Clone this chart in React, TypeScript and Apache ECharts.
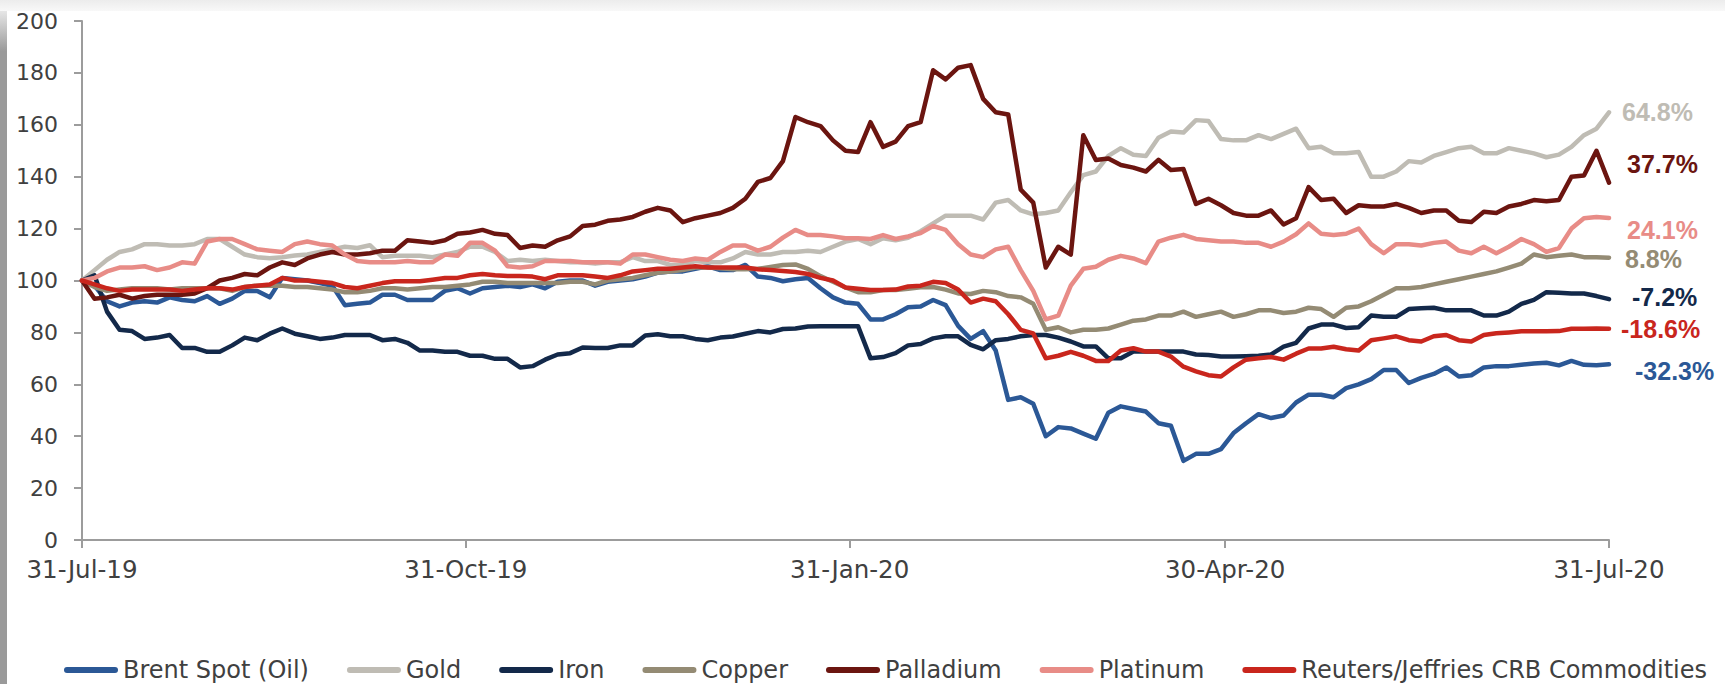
import React, { useEffect, useRef } from 'react';
import * as echarts from 'echarts';

// x positions: calendar days after 31-Jul-19, sampled every third day
const SAMPLE_DAYS: number[] = Array.from({ length: 123 }, (_, i) => i * 3);

const TICK_DAYS = [0, 92, 184, 274, 366];
const TICK_LABELS = ['31-Jul-19', '31-Oct-19', '31-Jan-20', '30-Apr-20', '31-Jul-20'];

const Y_TICKS = { min: 0, max: 200, step: 20 };

// Indexed prices, 31-Jul-19 = 100
const brent = [
  100, 98, 92, 90, 91.5, 92, 91.5, 93.5, 92.5, 92, 94, 91, 93, 96, 96, 93.5, 101, 100.5, 100, 99, 98, 90.5, 91, 91.5, 94.5,
  94.5, 92.5, 92.5, 92.5, 96, 97, 95, 97, 97.5, 98, 97.5, 98.5, 97, 99.5, 100, 100, 98, 99.5, 100, 100.5, 101.5, 103, 103.5, 103.5, 104.5,
  105.5, 104, 104, 106, 101.5, 101, 99.7, 100.5, 101, 97, 93.5, 91.5, 91, 85, 85, 87, 89.7, 90, 92.5, 90.5, 82.5, 77.5, 80.5, 73, 54,
  55, 52.5, 40, 43.5, 43, 41, 39, 49, 51.5, 50.5, 49.5, 45, 44, 30.5, 33.2, 33.2, 35, 41.2, 45, 48.5, 47, 48, 53, 56,
  56, 55, 58.5, 60, 62, 65.5, 65.5, 60.5, 62.5, 64, 66.5, 63, 63.5, 66.5, 67, 67, 67.5, 68, 68.3, 67.3, 69, 67.5, 67.3, 67.7,
];

const gold = [
  100, 104, 108, 111, 112, 114, 114, 113.5, 113.5, 114, 116, 116, 113, 110, 109, 108.6, 109, 109.6, 110, 111, 112, 113, 112.5, 113.6, 109,
  109.5, 109.5, 109.5, 109, 110, 111, 113, 113, 111, 107.5, 108, 107.5, 108, 107.5, 107, 107, 106.5, 107, 107, 109, 107.5, 107.5, 106, 106, 107.5,
  107, 107, 108.5, 111, 110, 110, 111, 111, 111.5, 111, 113, 115, 116, 114, 116.3, 115.5, 116.5, 119, 122, 125, 125, 125, 123.5, 130, 131,
  127, 125.5, 126, 127, 134, 140.6, 142, 148, 151, 148.5, 148, 155, 157.4, 157, 161.8, 161.5, 154.5, 154, 154, 156, 154.5, 156.5, 158.5, 151,
  151.5, 149, 149, 149.5, 140, 140, 142, 146, 145.5, 148, 149.5, 151, 151.5, 149, 149, 151, 150, 149, 147.5, 148.5, 151.5, 156, 158.5, 164.8,
];

const iron = [
  100, 102, 88, 81, 80.5, 77.5, 78, 79, 74, 74, 72.5, 72.5, 75, 78, 77, 79.5, 81.5, 79.5, 78.5, 77.5, 78, 79, 79, 79, 77,
  77.5, 76, 73, 73, 72.5, 72.5, 71, 71, 69.8, 69.8, 66.5, 67, 69.5, 71.5, 72, 74.2, 74, 74, 75, 75, 78.8, 79.3, 78.5, 78.5, 77.5,
  77, 78, 78.4, 79.5, 80.5, 80, 81.3, 81.5, 82.3, 82.4, 82.4, 82.4, 82.4, 70, 70.5, 72, 75, 75.5, 77.7, 78.5, 78.5, 75.2, 73.5, 77, 77.5,
  78.5, 79, 79, 78, 76.5, 74.6, 74.6, 70, 70, 72.6, 72.6, 72.6, 72.6, 72.6, 71.5, 71.3, 70.7, 70.7, 70.8, 71, 71.5, 74.5, 76, 81.5,
  83, 83, 81.7, 82, 86.5, 86, 86, 89, 89.3, 89.5, 88.5, 88.5, 88.5, 86.5, 86.5, 88, 91, 92.5, 95.5, 95.3, 95, 95, 94, 92.8,
];

const copper = [
  100, 97.5, 96, 96.5, 97, 97, 97, 96.5, 97, 97, 97, 97, 96, 97.5, 98, 98, 98, 97.5, 97.5, 97, 96.5, 95.5, 95.5, 96, 97,
  97, 96.5, 97, 97.5, 97.5, 98, 98.5, 99.5, 99.5, 99, 99, 99, 99, 99, 99.5, 99.5, 98.5, 100, 100.5, 101, 102, 103, 103.5, 104, 105,
  105, 104.7, 104.3, 104.3, 104.5, 105.2, 106, 106.2, 104.5, 101.7, 99.5, 97.3, 95.5, 95.5, 96.3, 96.3, 96.8, 97.4, 97.5, 96.5, 95, 94.8, 96, 95.5, 94,
  93.5, 91, 81, 82, 80, 81, 81, 81.5, 83, 84.5, 85, 86.5, 86.5, 88, 86, 87, 88, 86, 87, 88.5, 88.5, 87.5, 88, 89.5,
  89, 86, 89.5, 90, 92, 94.5, 97, 97, 97.5, 98.5, 99.5, 100.5, 101.5, 102.5, 103.5, 105, 106.5, 110, 109, 109.5, 110, 109, 109, 108.8,
];

const palladium = [
  100, 93, 93.5, 94.5, 93, 94, 94.5, 94.5, 94.5, 95, 97, 100, 101, 102.5, 102, 105, 107, 106, 108.5, 110, 111, 110, 110, 110.5, 111.5,
  111.5, 115.5, 115, 114.5, 115.5, 118, 118.5, 119.5, 118, 117.5, 112.5, 113.5, 113, 115.5, 117, 121, 121.5, 123, 123.5, 124.5, 126.5, 128, 127, 122.5, 124,
  125, 126, 128, 131.5, 138, 139.5, 146, 163, 161, 159.5, 154, 150, 149.5, 161, 151.5, 153.5, 159.5, 161, 181, 177.5, 182, 183, 170, 164.8, 164,
  135, 130, 105, 113, 110, 156, 146.4, 147, 144.5, 143.5, 142, 146.5, 142.6, 143, 129.5, 131.5, 129, 126, 125, 125, 127, 121.6, 124, 136,
  131, 131.5, 126, 129, 128.5, 128.5, 129.5, 128, 126, 127, 127, 123, 122.5, 126.5, 126, 128.5, 129.5, 131, 130.5, 131, 140, 140.5, 150, 137.7,
];

const platinum = [
  100, 101, 103.5, 105, 105, 105.5, 104, 105, 107, 106.5, 115, 116, 116, 114, 112, 111.5, 111, 114, 115, 114, 113.5, 110, 107.5, 107, 107,
  107, 107.5, 107, 107, 110, 109.5, 114.5, 114.5, 111.5, 105.5, 105, 105.5, 107.5, 107.5, 107.5, 107, 107, 107, 106.5, 110, 110, 109, 108, 107.5, 108.5,
  108, 111, 113.5, 113.5, 111.5, 113, 116.5, 119.5, 117.5, 117.5, 117, 116.3, 116.3, 116, 117.5, 116, 117, 118.3, 121, 119.5, 114, 110, 109, 112, 113,
  104, 96, 85, 86.5, 98, 104.5, 105.3, 108, 109.5, 108.5, 106.7, 115, 116.5, 117.6, 116, 115.5, 115, 115, 114.5, 114.5, 113, 115, 117.8, 122,
  118, 117.5, 118, 120, 114, 110.5, 114, 114, 113.5, 114.5, 115, 111.5, 110.5, 113, 110.5, 113, 116, 114, 111, 112.5, 120, 124, 124.5, 124.1,
];

const crb = [
  100, 98.5, 97, 96, 96.5, 96.5, 96.5, 96.5, 96, 96.5, 97, 97, 96.5, 97.5, 98, 98.5, 101, 100, 100, 99.5, 99, 97.5, 97, 98, 99,
  99.7, 99.7, 99.7, 100.3, 101, 101, 102, 102.5, 102, 101.7, 101.7, 101.5, 100.5, 102, 102, 102, 101.5, 101, 102, 103.5, 104, 104.5, 104.5, 105, 105.5,
  105, 105, 105, 105, 104.3, 104, 103.7, 103.3, 102.5, 101, 100, 97.3, 96.8, 96.3, 96.3, 96.5, 97.7, 98, 99.5, 99, 96.5, 91.5, 93, 92, 87,
  81, 79.6, 70, 71, 72.5, 71, 69, 69, 73, 73.9, 72.6, 72.6, 70.7, 66.8, 65, 63.5, 63, 66.5, 69.5, 70, 70.5, 69.5, 71.8, 73.8,
  73.8, 74.5, 73.5, 73, 77, 77.7, 78.5, 77, 76.5, 78.5, 79, 77, 76.5, 79, 79.7, 80, 80.4, 80.4, 80.4, 80.5, 81.4, 81.4, 81.5, 81.4,
];

type SeriesDef = {
  name: string;
  values: number[];
  color: string;
  labelOffset: [number, number];
};

const SERIES: SeriesDef[] = [
  { name: 'Brent Spot (Oil)', values: brent, color: '#2b5896', labelOffset: [26, 7] },
  { name: 'Gold', values: gold, color: '#bfbcb4', labelOffset: [13, 0] },
  { name: 'Iron', values: iron, color: '#13294a', labelOffset: [23, -2] },
  { name: 'Copper', values: copper, color: '#948b74', labelOffset: [16, 1] },
  { name: 'Palladium', values: palladium, color: '#6b1510', labelOffset: [18, -19] },
  { name: 'Platinum', values: platinum, color: '#e88c87', labelOffset: [18, 12] },
  { name: 'Reuters/Jeffries CRB Commodities', values: crb, color: '#c9261d', labelOffset: [12, 0] },
];

const AXIS_FONT = 'DejaVu Sans';
const TEXT_COLOR = '#404040';
const AXIS_COLOR = '#9c9c9c';

function changeLabel(values: number[]): string {
  const last = values[values.length - 1];
  return (last - 100).toFixed(1) + '%';
}

export default function App() {
  const ref = useRef<HTMLDivElement>(null);

  useEffect(() => {
    if (!ref.current) return;
    const chart = echarts.init(ref.current, undefined, { renderer: 'svg' });

    const series = SERIES.map((s) => ({
      name: s.name,
      type: 'line',
      data: s.values.map((v, i) => [SAMPLE_DAYS[i], v]),
      showSymbol: false,
      symbol: 'none',
      color: s.color,
      lineStyle: { width: 4.5, color: s.color, join: 'round', cap: 'round' },
      emphasis: { disabled: true },
      endLabel: {
        show: true,
        formatter: () => changeLabel(s.values),
        color: s.color,
        fontFamily: 'Liberation Sans',
        fontWeight: 'bold',
        fontSize: 25,
        lineHeight: 20,
        distance: 0,
        align: 'left',
        verticalAlign: 'middle',
        offset: s.labelOffset,
      },
    }));

    chart.setOption({
      animation: false,
      backgroundColor: '#ffffff',
      grid: { left: 82, right: 116, top: 21, bottom: 144, containLabel: false },
      legend: {
        data: SERIES.map((s) => s.name),
        left: 64,
        top: 658,
        padding: 0,
        itemWidth: 54,
        itemHeight: 6,
        itemGap: 38,
        icon: 'path://M3,0H51A3,3,0,0,1,51,6H3A3,3,0,0,1,3,0Z',
        textStyle: { color: TEXT_COLOR, fontSize: 24, lineHeight: 24, fontFamily: AXIS_FONT },
        selectedMode: false,
      },
      xAxis: {
        type: 'value',
        min: TICK_DAYS[0],
        max: TICK_DAYS[TICK_DAYS.length - 1],
        splitLine: { show: false },
        axisLine: { show: true, lineStyle: { color: AXIS_COLOR, width: 2 } },
        axisTick: {
          show: true,
          customValues: TICK_DAYS,
          length: 8,
          lineStyle: { color: AXIS_COLOR, width: 2 },
        },
        axisLabel: {
          customValues: TICK_DAYS,
          formatter: (v: number) => {
            const idx = TICK_DAYS.indexOf(Math.round(v));
            return idx >= 0 ? TICK_LABELS[idx] : '';
          },
          color: TEXT_COLOR,
          fontSize: 24.5,
          fontFamily: AXIS_FONT,
          margin: 17,
        },
      },
      yAxis: {
        type: 'value',
        min: Y_TICKS.min,
        max: Y_TICKS.max,
        interval: Y_TICKS.step,
        splitLine: { show: false },
        axisLine: { show: true, lineStyle: { color: AXIS_COLOR, width: 2 } },
        axisTick: { show: true, length: 8, lineStyle: { color: AXIS_COLOR, width: 2 } },
        axisLabel: { color: TEXT_COLOR, fontSize: 22, fontFamily: AXIS_FONT, margin: 24 },
      },
      graphic: [
        {
          type: 'rect',
          left: 0,
          top: 0,
          shape: { width: 1725, height: 11 },
          style: {
            fill: new echarts.graphic.LinearGradient(0, 0, 0, 1, [
              { offset: 0, color: '#ececec' },
              { offset: 1, color: '#f8f8f8' },
            ]),
          },
          silent: true,
        },
        {
          type: 'rect',
          left: 0,
          top: 11,
          shape: { width: 7, height: 673 },
          style: {
            fill: new echarts.graphic.LinearGradient(0, 0, 0, 1, [
              { offset: 0, color: '#e6e6e6' },
              { offset: 0.06, color: '#9a9a9a' },
              { offset: 1, color: '#9a9a9a' },
            ]),
          },
          silent: true,
        },
      ],
      series,
    });

    return () => chart.dispose();
  }, []);

  return (
    <div
      ref={ref}
      style={{ position: 'fixed', left: 0, top: 0, width: 1725, height: 684, background: '#ffffff' }}
    />
  );
}
